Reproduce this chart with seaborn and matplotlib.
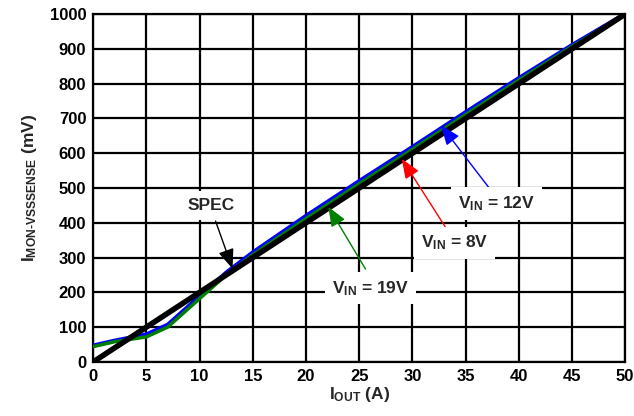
import numpy as np
import pandas as pd
import matplotlib
matplotlib.use('Agg')
import matplotlib.pyplot as plt
import seaborn as sns

# data
iout = [0, 2, 5, 7, 10, 12.5, 15, 20, 25, 30, 35, 40, 45, 50]
vin12 = [48, 62, 80, 108, 190, 258, 316, 421, 521, 619, 719, 817, 912, 1002]
vin8 = [46, 60, 76, 104, 186, 254, 311, 416, 516, 614, 714, 812, 909, 1001]
vin19 = [44, 58, 72, 100, 182, 250, 308, 412, 512, 611, 711, 810, 907, 1000]
spec_x = [0, 50]
spec_y = [0, 1000]

sns.set_theme(style='white')
plt.rcParams['font.family'] = ['Liberation Sans', 'DejaVu Sans']
plt.rcParams['font.weight'] = 'bold'
plt.rcParams['mathtext.fontset'] = 'custom'
plt.rcParams['mathtext.rm'] = 'Liberation Sans:bold'
plt.rcParams['mathtext.it'] = 'Liberation Sans:bold'
plt.rcParams['mathtext.bf'] = 'Liberation Sans:bold'
plt.rcParams['mathtext.default'] = 'regular'

fig, ax = plt.subplots(figsize=(6.34, 4.16), dpi=100)
fig.subplots_adjust(left=0.147, right=0.986, top=0.966, bottom=0.13)

sns.lineplot(x=iout, y=vin8, color='#ff0000', lw=2.5, ax=ax, zorder=2)
sns.lineplot(x=iout, y=vin12, color='#0000ff', lw=2.5, ax=ax, zorder=3)
sns.lineplot(x=iout, y=vin19, color='#008000', lw=2.5, ax=ax, zorder=4)
sns.lineplot(x=spec_x, y=spec_y, color='black', lw=4, ax=ax, zorder=5)

ax.set_xlim(0, 50)
ax.set_ylim(0, 1000)
ax.set_xticks(np.arange(0, 51, 5))
ax.set_yticks(np.arange(0, 1001, 100))
ax.grid(True, color='black', lw=1.6)
ax.set_axisbelow(True)
for s in ax.spines.values():
    s.set_color('black')
    s.set_linewidth(1.6)
ax.tick_params(length=0, labelsize=12, pad=5, colors='black')
for lab in ax.get_xticklabels() + ax.get_yticklabels():
    lab.set_fontweight('bold')

ax.set_xlabel('I$_{OUT}$ (A)', fontsize=12.5, fontweight='bold', labelpad=1)
ax.set_ylabel('I$_{MON\u2010VSSSENSE}$ (mV)', fontsize=12.5, fontweight='bold', labelpad=8)

box = dict(boxstyle='square,pad=0.4', fc='white', ec='none')
labels = [
    ('SPEC', (11.1, 451), (11.5, 405), (13.1, 268), 'black'),
    ('V$_{IN}$ = 19V', (26.1, 212), (25.6, 267), (22.1, 446), '#008000'),
    ('V$_{IN}$ = 8V', (34.0, 342), (33.1, 388), (29.0, 584), '#ff0000'),
    ('V$_{IN}$ = 12V', (37.9, 455), (37.3, 497), (32.7, 680), '#0000ff'),
]
for txt, pos, start, tip, col in labels:
    ax.annotate('', xy=tip, xytext=start,
                arrowprops=dict(arrowstyle='-|>,head_length=1.0,head_width=0.4',
                                color=col, lw=1, shrinkA=0, shrinkB=0),
                zorder=6)
    ax.text(pos[0], pos[1], txt, ha='center', va='center', fontsize=12.5,
            fontweight='bold', bbox=box, zorder=7)

fig.savefig('out.png', dpi=100)
